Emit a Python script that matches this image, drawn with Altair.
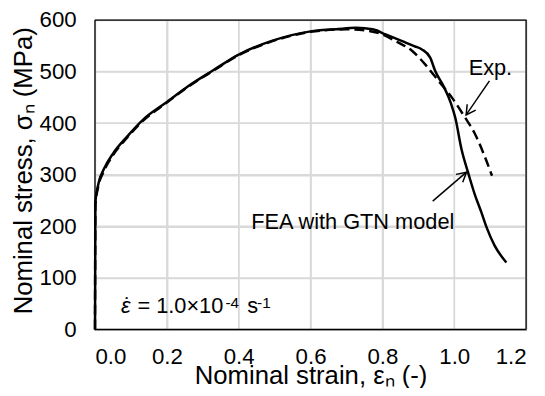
import altair as alt
import pandas as pd

# FEA with GTN model (solid)
fea_strain = [0, 0.001, 0.01, 0.024, 0.051, 0.088, 0.134, 0.2, 0.26, 0.33, 0.4, 0.49,
              0.6, 0.67, 0.727, 0.773, 0.809, 0.855, 0.89, 0.91, 0.933, 0.947, 0.97,
              0.99, 1.003, 1.02, 1.039, 1.057, 1.075, 1.09, 1.112, 1.145]
fea_stress = [0, 246, 284, 310, 342, 373, 407, 441, 472, 503, 533, 559,
              578, 582, 585, 582, 572, 559, 549, 543, 527, 501, 472,
              440, 410, 350, 303, 262, 228, 198, 163, 130]

# Experiment (dashed)
exp_strain = [0, 0.001, 0.01, 0.024, 0.051, 0.088, 0.134, 0.2, 0.26, 0.33, 0.4, 0.49,
              0.6, 0.7, 0.75, 0.8, 0.837, 0.883, 0.919, 0.956, 0.993, 1.029, 1.057,
              1.085, 1.105]
exp_stress = [0, 240, 280, 306, 339, 371, 405, 440, 471, 502, 532, 558,
              577, 582, 580, 572, 559, 540, 514, 482, 450, 412, 380,
              335, 298]

x_ticks = [0.0, 0.2, 0.4, 0.6, 0.8, 1.0, 1.2]
y_ticks = [0, 100, 200, 300, 400, 500, 600]
x_domain = [0.0, 1.2]
y_domain = [0, 600]

label_text = ["Exp.", "FEA with GTN model"]
label_strain = [1.04, 0.435]
label_stress = [494, 194]

rate_text = ["= 1.0×10", "-4", "s", "-1"]
rate_strain = [0.118, 0.363, 0.424, 0.451]
rate_stress = [31.6, 42, 31.6, 42]
rate_size = [22, 15.5, 22, 15.5]

arrow_tail_strain = [1.098, 0.94]
arrow_tail_stress = [482, 249]
arrow_head_strain = [1.033, 1.034]
arrow_head_stress = [416, 305]
arrow_angle = [214.5, 49.5]

FONT = "Liberation Sans"

fea = pd.DataFrame({"strain": fea_strain, "stress": fea_stress})
exp = pd.DataFrame({"strain": exp_strain, "stress": exp_stress})
labels = pd.DataFrame({"strain": label_strain, "stress": label_stress, "text": label_text})
rate = pd.DataFrame({"strain": rate_strain, "stress": rate_stress, "text": rate_text, "size": rate_size})
arrows = pd.DataFrame({"strain": arrow_tail_strain, "stress": arrow_tail_stress,
                       "strain2": arrow_head_strain, "stress2": arrow_head_stress})
vgrid = pd.DataFrame({"strain": x_ticks, "stress": [y_domain[0]] * len(x_ticks),
                      "stress2": [y_domain[1]] * len(x_ticks)})
hgrid = pd.DataFrame({"stress": y_ticks, "strain": [x_domain[0]] * len(y_ticks),
                      "strain2": [x_domain[1]] * len(y_ticks)})
vframe = pd.DataFrame({"strain": x_domain, "stress": [y_domain[0]] * 2, "stress2": [y_domain[1]] * 2})
hframe = pd.DataFrame({"stress": y_domain, "strain": [x_domain[0]] * 2, "strain2": [x_domain[1]] * 2})

xs = alt.Scale(domain=x_domain, nice=False, zero=False)
ys = alt.Scale(domain=y_domain, nice=False)

x_axis = alt.Axis(values=x_ticks, format=".1f", title="Nominal strain, εₙ (-)",
                  grid=True, gridColor="#d9d9d9", gridWidth=1.5, domain=False, ticks=False,
                  labelFontSize=22.5, labelFont=FONT, labelColor="black", labelPadding=16,
                  titleFontSize=26, titleFont=FONT, titleFontWeight="normal",
                  titleColor="black", titleX=218, titleY=54.5, titleBaseline="alphabetic",
                  titleAlign="center")
y_axis = alt.Axis(values=y_ticks, format="d", title="Nominal stress, σₙ (MPa)",
                  grid=True, gridColor="#d9d9d9", gridWidth=1.5, domain=False, ticks=False,
                  labelFontSize=22.5, labelFont=FONT, labelColor="black", labelPadding=19,
                  titleFontSize=26, titleFont=FONT, titleFontWeight="normal",
                  titleColor="black", titleX=-64, titleY=152, titleAngle=270,
                  titleBaseline="alphabetic", titleAlign="center")

X = alt.X("strain:Q", scale=xs, axis=x_axis)
Y = alt.Y("stress:Q", scale=ys, axis=y_axis)

grid_v = alt.Chart(vgrid).mark_rule(color="#d9d9d9", strokeWidth=1.5).encode(x=X, y=Y, y2="stress2:Q")
grid_h = alt.Chart(hgrid).mark_rule(color="#d9d9d9", strokeWidth=1.5).encode(x=X, x2="strain2:Q", y=Y)
frame_v = alt.Chart(vframe).mark_rule(color="black", strokeWidth=1.3).encode(x=X, y=Y, y2="stress2:Q")
frame_h = alt.Chart(hframe).mark_rule(color="black", strokeWidth=1.3).encode(x=X, x2="strain2:Q", y=Y)

fea_line = alt.Chart(fea).mark_line(color="black", strokeWidth=2.5, interpolate="monotone").encode(x=X, y=Y)
exp_line = alt.Chart(exp).mark_line(color="black", strokeWidth=2.5, strokeDash=[10, 5],
                                    interpolate="monotone").encode(x=X, y=Y)

text_layer = alt.Chart(labels).mark_text(font=FONT, fontSize=22, align="left",
                                         baseline="alphabetic", color="black").encode(
    x=X, y=Y, text="text:N")

rate_sym = alt.Chart(pd.DataFrame({"strain": [0.072], "stress": [31.6], "text": ["ε"]})).mark_text(
    font=FONT, fontSize=22, fontStyle="italic", align="left", baseline="alphabetic", color="black"
).encode(x=X, y=Y, text="text:N")
rate_dot = alt.Chart(pd.DataFrame({"strain": [0.091], "stress": [31.6], "text": ["˙"]})).mark_text(
    font=FONT, fontSize=22, align="center", baseline="alphabetic", color="black"
).encode(x=X, y=Y, text="text:N")
rate_rest = alt.Chart(rate).mark_text(font=FONT, align="left", baseline="alphabetic", color="black").encode(
    x=X, y=Y, text="text:N", size=alt.Size("size:Q", scale=None, legend=None))

shafts = alt.Chart(arrows).mark_rule(color="black", strokeWidth=1.5).encode(
    x=X, y=Y, x2="strain2:Q", y2="stress2:Q")

head_path = "M-0.55,1L0,0L0.55,1"
heads = []
for i in range(len(arrow_angle)):
    d = pd.DataFrame({"strain": [arrow_head_strain[i]], "stress": [arrow_head_stress[i]]})
    heads.append(alt.Chart(d).mark_point(shape=head_path, filled=False, size=360, strokeWidth=1.5,
                                         color="black", opacity=1, angle=arrow_angle[i]).encode(x=X, y=Y))

chart = alt.layer(grid_v, grid_h, fea_line, exp_line, text_layer, rate_sym, rate_dot, rate_rest,
                  shafts, *heads, frame_v, frame_h).properties(
    width=436, height=313,
    background="white",
    autosize=alt.AutoSizeParams(type="none"),
    padding={"left": 88, "top": 10, "right": 11, "bottom": 57},
).configure_view(stroke="black", strokeWidth=1.2)

chart.save("out.html", embed_options={"renderer": "svg", "actions": False})
